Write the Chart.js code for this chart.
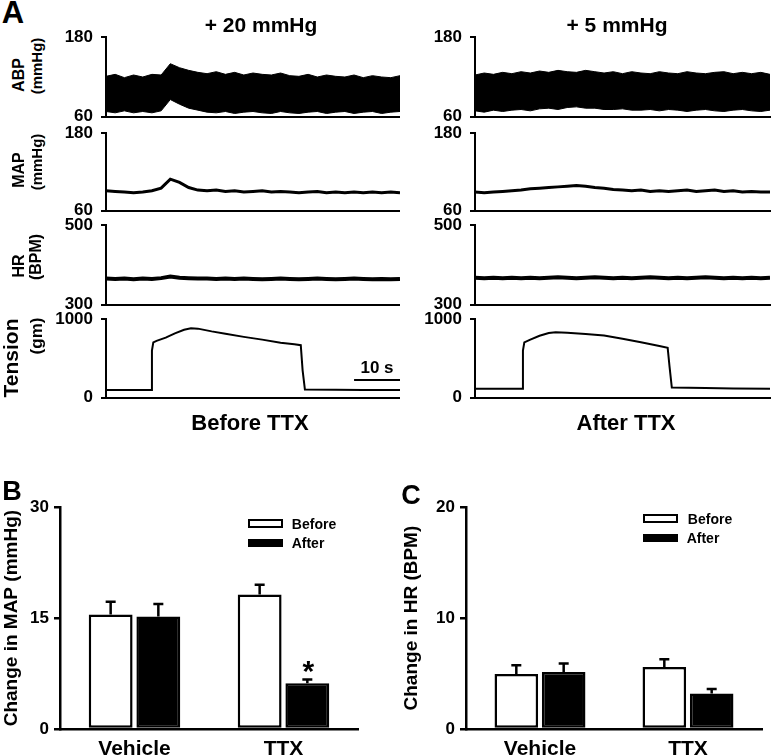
<!DOCTYPE html>
<html lang="en">
<head>
<meta charset="UTF-8">
<title>TTX - pressor responses</title>
<script src="https://cdn.jsdelivr.net/npm/chart.js"></script>
<style>
  body { margin: 0; width: 771px; height: 756px; position: relative; overflow: hidden; background: #fff;
         font-family: 'Liberation Sans', Arial, Helvetica, sans-serif; font-weight: bold; color: #000; }
  canvas { position: absolute; }
  .t { position: absolute; white-space: nowrap; line-height: 1; transform: translate(-50%, -50%); }
  .r { position: absolute; white-space: nowrap; line-height: 1; transform: translate(-50%, -50%) rotate(-90deg); }
  .box { position: absolute; box-sizing: border-box; border: 2px solid #000; }
</style>
</head>
<body>

<canvas id="abpBefore"></canvas>
<canvas id="mapBeforeChart"></canvas>
<canvas id="hrBeforeChart"></canvas>
<canvas id="tenBeforeChart"></canvas>
<canvas id="abpAfter"></canvas>
<canvas id="mapAfterChart"></canvas>
<canvas id="hrAfterChart"></canvas>
<canvas id="tenAfterChart"></canvas>
<canvas id="mapBars"></canvas>
<canvas id="hrBars"></canvas>

<div class="t" style="left:13px;top:12px;font-size:31px">A</div>
<div class="t" style="left:261px;top:24px;font-size:21px">+ 20 mmHg</div>
<div class="t" style="left:617px;top:24px;font-size:21px">+ 5 mmHg</div>
<div class="r" style="left:19px;top:75px;font-size:16px">ABP</div>
<div class="r" style="left:36px;top:66px;font-size:15px">(mmHg)</div>
<div class="r" style="left:19px;top:170px;font-size:16px">MAP</div>
<div class="r" style="left:36px;top:162px;font-size:15px">(mmHg)</div>
<div class="r" style="left:19px;top:266px;font-size:16px">HR</div>
<div class="r" style="left:36px;top:257px;font-size:16px">(BPM)</div>
<div class="r" style="left:10px;top:358px;font-size:21px">Tension</div>
<div class="r" style="left:36px;top:336px;font-size:17px">(gm)</div>
<div class="t" style="left:250px;top:423px;font-size:22px">Before TTX</div>
<div class="t" style="left:626px;top:423px;font-size:22px">After TTX</div>

<div class="t" style="left:12px;top:491px;font-size:27px">B</div>
<div class="t" style="left:411px;top:495px;font-size:27px">C</div>

<div class="box" style="left:248px;top:519px;width:35px;height:9px;background:#fff"></div>
<div class="t" style="left:314px;top:524px;font-size:14px">Before</div>
<div class="box" style="left:248px;top:539px;width:35px;height:8px;background:#000"></div>
<div class="t" style="left:308px;top:543px;font-size:14px">After</div>

<div class="box" style="left:643px;top:514px;width:35px;height:9px;background:#fff"></div>
<div class="t" style="left:710px;top:519px;font-size:14px">Before</div>
<div class="box" style="left:643px;top:534px;width:35px;height:8px;background:#000"></div>
<div class="t" style="left:703px;top:538px;font-size:14px">After</div>

<script>
    // time base of the recordings (s)
    const traceTime = [0, 2, 4, 6, 8, 10, 12, 14, 16, 18, 20, 22, 24, 26, 28, 30, 32,
                       34, 36, 38, 40, 42, 44, 46, 48, 50, 52, 54, 56, 58, 60, 62, 64];

    // ABP envelope (systolic / diastolic), mmHg
    const abpBeforeHigh = [121, 124, 119, 123, 120, 124, 123, 140, 134, 130, 127, 125, 128, 124, 127, 123, 126,
                           124, 123, 126, 122, 121, 124, 120, 123, 121, 120, 123, 119, 122, 120, 119, 122];
    const abpBeforeLow = [68, 66, 69, 66, 68, 66, 69, 86, 79, 73, 70, 67, 66, 68, 65, 67, 68,
                          66, 65, 68, 66, 65, 67, 68, 65, 67, 68, 65, 67, 68, 65, 67, 68];
    const abpAfterHigh = [123, 126, 124, 127, 125, 128, 126, 129, 127, 130, 128, 127, 130, 128, 126, 128, 125,
                          128, 126, 125, 128, 126, 125, 128, 126, 125, 127, 128, 125, 127, 125, 127, 124];
    const abpAfterLow = [69, 67, 70, 68, 70, 71, 69, 72, 73, 71, 74, 75, 73, 73, 71, 71, 72,
                         70, 70, 71, 69, 71, 70, 68, 70, 71, 69, 68, 70, 71, 69, 68, 70];

    // MAP, mmHg
    const mapBefore = [91, 90, 89, 88, 89, 91, 95, 109, 104, 96, 92, 91, 92, 90, 91, 89, 90,
                       91, 89, 90, 89, 88, 89, 90, 88, 89, 88, 89, 88, 89, 88, 89, 88];
    const mapAfter = [89, 88, 89, 90, 91, 92, 94, 95, 96, 97, 98, 99, 98, 96, 95, 93, 92,
                      91, 92, 90, 91, 90, 91, 92, 90, 91, 92, 90, 91, 89, 90, 89, 89];

    // HR, BPM
    const hrBefore = [366, 365, 366, 364, 366, 365, 367, 371, 368, 367, 366, 366, 365, 366, 365, 366, 365,
                      364, 365, 366, 365, 364, 365, 366, 365, 364, 365, 366, 365, 364, 365, 364, 365];
    const hrAfter = [368, 367, 368, 367, 368, 367, 368, 367, 368, 369, 368, 367, 368, 369, 368, 367, 368,
                     367, 368, 369, 368, 367, 368, 367, 368, 369, 368, 367, 368, 367, 368, 367, 368];

    // muscle tension, gm
    const tensionBeforeTime = [0, 9.8, 10.0, 10.3, 11, 13, 15, 17, 18.5, 20, 23, 26, 30, 34, 38, 41, 42.4, 42.8, 43.3, 50, 56, 64];
    const tensionBefore = [100, 100, 600, 705, 725, 765, 820, 865, 885, 880, 845, 815, 775, 740, 700, 680, 670, 350, 105, 103, 100, 98];
    const tensionAfterTime = [0, 10.2, 10.4, 10.7, 12, 14, 16, 17.5, 20, 24, 28, 32, 36, 40, 41.8, 42.2, 42.7, 50, 56, 64];
    const tensionAfter = [115, 115, 600, 705, 740, 790, 825, 835, 828, 812, 792, 750, 707, 660, 635, 400, 130, 125, 118, 115];

    // 10 s scale bar (s, gm)
    const scaleBarStart = 54;
    const scaleBarSeconds = 10;
    const scaleBarLevel = 228;

    // panels B and C
    const groups = ['Vehicle', 'TTX'];
    const mapChangeBefore = [15.5, 18.2];
    const mapChangeAfter = [15.2, 6.2];
    const mapErrBefore = [1.7, 1.3];
    const mapErrAfter = [1.7, 0.5];
    const mapMarks = ['', '*'];
    const hrChangeBefore = [4.95, 5.6];
    const hrChangeAfter = [5.15, 3.2];
    const hrErrBefore = [0.8, 0.7];
    const hrErrAfter = [0.75, 0.4];
    const hrMarks = ['', ''];

    Chart.defaults.font.family = "'Liberation Sans', Arial, Helvetica, sans-serif";
    Chart.defaults.color = '#000';
    Chart.defaults.animation = false;
    Chart.defaults.plugins.legend.display = false;
    Chart.defaults.plugins.tooltip.enabled = false;

    const pts = (xs, ys) => xs.map((x, i) => ({ x: x, y: ys[i] }));

    // draw once, see where the plot area landed, then size/shift the canvas
    // so the plot area sits exactly at [top, bottom] on the page
    function placeChart(cv, left, width, top, bottom, makeConfig) {
        cv.width = width;
        cv.height = bottom - top + 40;
        let chart = new Chart(cv, makeConfig());
        const above = chart.chartArea.top;
        const below = cv.height - chart.chartArea.bottom;
        chart.destroy();
        cv.width = width;
        cv.height = bottom - top + above + below;
        cv.style.left = left + 'px';
        cv.style.top = (top - above) + 'px';
        return new Chart(cv, makeConfig());
    }

    const leftCol = { left: 46, width: 354, padRight: 0 };
    const rightCol = { left: 415, width: 356, padRight: 1 };

    function makeTrace(id, col, top, bottom, yMin, yMax, makeDatasets, plugins) {
        placeChart(document.getElementById(id), col.left, col.width, top, bottom, () => ({
            type: 'line',
            data: { datasets: makeDatasets() },
            options: {
                responsive: false,
                layout: { padding: { top: 0, bottom: 0, left: 0, right: col.padRight } },
                elements: { point: { radius: 0 }, line: { tension: 0 } },
                scales: {
                    x: {
                        type: 'linear', min: 0, max: 64,
                        ticks: { display: false },
                        grid: { display: false },
                        border: { color: '#000', width: 2 },
                        afterFit: s => { s.height = 0; }
                    },
                    y: {
                        min: yMin, max: yMax,
                        afterBuildTicks: s => { s.ticks = [{ value: yMin }, { value: yMax }]; },
                        ticks: { font: { size: 17, weight: 'bold' }, padding: 8, callback: v => String(v) },
                        grid: { drawOnChartArea: false, color: '#000', lineWidth: 2, tickLength: 5 },
                        border: { color: '#000', width: 2 },
                        afterFit: s => { s.width = 60; }
                    }
                }
            },
            plugins: plugins || []
        }));
    }

    function band(high, low) {
        return () => [
            { data: pts(traceTime, high), borderColor: '#000', borderWidth: 1, fill: false },
            { data: pts(traceTime, low), borderColor: '#000', borderWidth: 1, backgroundColor: '#000', fill: '-1' }
        ];
    }

    function trace(xs, ys, w) {
        return () => [{ data: pts(xs, ys), borderColor: '#000', borderWidth: w, fill: false }];
    }

    const scaleBar = {
        id: 'scaleBar',
        afterDraw(chart) {
            const { ctx, scales: { x, y } } = chart;
            const x0 = x.getPixelForValue(scaleBarStart);
            const x1 = x.getPixelForValue(scaleBarStart + scaleBarSeconds);
            const yy = y.getPixelForValue(scaleBarLevel);
            ctx.save();
            ctx.strokeStyle = '#000';
            ctx.lineWidth = 2;
            ctx.beginPath();
            ctx.moveTo(x0, yy);
            ctx.lineTo(x1, yy);
            ctx.stroke();
            ctx.fillStyle = '#000';
            ctx.font = "bold 17px 'Liberation Sans', Arial, sans-serif";
            ctx.textAlign = 'center';
            ctx.textBaseline = 'alphabetic';
            ctx.fillText(scaleBarSeconds + ' s', (x0 + x1) / 2, yy - 7);
            ctx.restore();
        }
    };

    // Panel A, before TTX
    makeTrace('abpBefore', leftCol, 37, 117, 60, 180, band(abpBeforeHigh, abpBeforeLow));
    makeTrace('mapBeforeChart', leftCol, 133, 211, 60, 180, trace(traceTime, mapBefore, 3));
    makeTrace('hrBeforeChart', leftCol, 225, 305, 300, 500, trace(traceTime, hrBefore, 4));
    makeTrace('tenBeforeChart', leftCol, 319, 398, 0, 1000, trace(tensionBeforeTime, tensionBefore, 2), [scaleBar]);

    // Panel A, after TTX
    makeTrace('abpAfter', rightCol, 37, 117, 60, 180, band(abpAfterHigh, abpAfterLow));
    makeTrace('mapAfterChart', rightCol, 133, 211, 60, 180, trace(traceTime, mapAfter, 3));
    makeTrace('hrAfterChart', rightCol, 225, 305, 300, 500, trace(traceTime, hrAfter, 4));
    makeTrace('tenAfterChart', rightCol, 319, 398, 0, 1000, trace(tensionAfterTime, tensionAfter, 2));

    // error bars + significance marks drawn from the bar elements
    function errorPlugin(errs, marks) {
        return {
            id: 'errorBars',
            afterDatasetsDraw(chart) {
                const ctx = chart.ctx;
                const y = chart.scales.y;
                errs.forEach((list, di) => {
                    const ds = chart.data.datasets[di];
                    chart.getDatasetMeta(di).data.forEach((bar, i) => {
                        const yTop = y.getPixelForValue(ds.data[i] + list[i]);
                        ctx.save();
                        ctx.strokeStyle = '#000';
                        ctx.lineWidth = 2.5;
                        ctx.beginPath();
                        ctx.moveTo(bar.x, bar.y);
                        ctx.lineTo(bar.x, yTop);
                        ctx.moveTo(bar.x - 5, yTop);
                        ctx.lineTo(bar.x + 5, yTop);
                        ctx.stroke();
                        if (di === 1 && marks[i]) {
                            ctx.fillStyle = '#000';
                            ctx.font = "bold 30px 'Liberation Sans', Arial, sans-serif";
                            ctx.textAlign = 'center';
                            ctx.textBaseline = 'alphabetic';
                            ctx.fillText(marks[i], bar.x + 1, yTop + 2);
                        }
                        ctx.restore();
                    });
                });
            }
        };
    }

    function makeBars(id, left, yWidth, padRight, yMax, step, title, before, after, errBefore, errAfter, marks) {
        placeChart(document.getElementById(id), left, 371, 507, 729, () => ({
            type: 'bar',
            data: {
                labels: groups,
                datasets: [
                    { label: 'Before', data: before, backgroundColor: '#fff', borderColor: '#000', borderWidth: 2.5, borderSkipped: false },
                    { label: 'After', data: after, backgroundColor: '#000', borderColor: '#000', borderWidth: 2.5, borderSkipped: false }
                ]
            },
            options: {
                responsive: false,
                categoryPercentage: 0.64,
                barPercentage: 0.92,
                layout: { padding: { top: 0, right: padRight, left: 0, bottom: 0 } },
                scales: {
                    x: {
                        grid: { display: false },
                        border: { color: '#000', width: 2.5 },
                        ticks: { font: { size: 21, weight: 'bold' }, padding: 0 },
                        afterFit: s => { s.height = 27; }
                    },
                    y: {
                        min: 0, max: yMax,
                        ticks: { stepSize: step, font: { size: 17, weight: 'bold' }, padding: 5 },
                        grid: { drawOnChartArea: false, color: '#000', lineWidth: 2.5, tickLength: 6 },
                        border: { color: '#000', width: 2.5 },
                        title: { display: true, text: title, font: { size: 19, weight: 'bold' }, padding: 0 },
                        afterFit: s => { s.width = yWidth; }
                    }
                }
            },
            plugins: [errorPlugin([errBefore, errAfter], marks)]
        }));
    }

    makeBars('mapBars', 0, 60, 13, 30, 15, 'Change in MAP (mmHg)',
        mapChangeBefore, mapChangeAfter, mapErrBefore, mapErrAfter, mapMarks);
    makeBars('hrBars', 400, 66, 9, 20, 10, 'Change in HR (BPM)',
        hrChangeBefore, hrChangeAfter, hrErrBefore, hrErrAfter, hrMarks);
</script>
</body>
</html>
